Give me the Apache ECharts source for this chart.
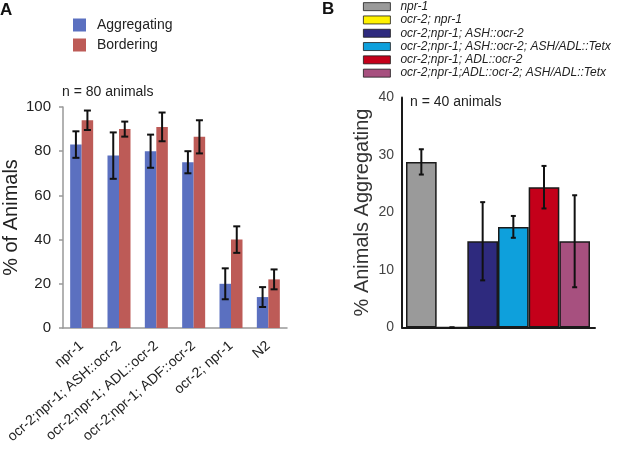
<!DOCTYPE html>
<html>
<head>
<meta charset="utf-8">
<script src="https://cdn.jsdelivr.net/npm/echarts@6/dist/echarts.min.js"></script>
<style>
  html, body { margin: 0; padding: 0; background: #fff; }
  #chart { width: 617px; height: 452px; }
</style>
</head>
<body>
<div id="chart"></div>
<script>
// Panel A: aggregating / bordering per strain
var strainsA = ["npr-1", "ocr-2;npr-1; ASH::ocr-2", "ocr-2;npr-1; ADL::ocr-2",
                "ocr-2;npr-1; ADF::ocr-2", "ocr-2; npr-1", "N2"];
var aggregating = [83, 78, 80, 75, 20, 14];
var aggregatingErr = [6, 10.5, 7.5, 5, 7, 4.5];
var bordering = [94, 90, 91, 86.5, 40, 22];
var borderingErr = [4.4, 3.4, 6.5, 7.5, 6, 4.5];
var ticksA = [0, 20, 40, 60, 80, 100];

// Panel B: % animals aggregating
var strainsB = ["npr-1", "ocr-2; npr-1", "ocr-2;npr-1; ASH::ocr-2",
                "ocr-2;npr-1; ASH::ocr-2; ASH/ADL::Tetx", "ocr-2;npr-1; ADL::ocr-2",
                "ocr-2;npr-1;ADL::ocr-2; ASH/ADL::Tetx"];
var aggregatingB = [28.8, 0, 15, 17.5, 24.4, 15];
var aggregatingBErr = [2.2, 0, 6.8, 1.9, 3.7, 8];
var colorsB = ["#9A9A9A", "#FFF200", "#2E2A7E", "#0EA0DC", "#C4001A", "#A7507F"];
var ticksB = [0, 10, 20, 30, 40];

var blue = "#5B70C0", red = "#BD5B57", ink = "#222222";
var sans = '"Liberation Sans", Arial, sans-serif';
var barW = 11.5;

// error bar drawn around a bar centre shifted by `shift` px
function errorBars(shift, cap, lw) {
  return function (params, api) {
    var i = api.value(0);
    var lo = api.coord([i, api.value(1)]);
    var hi = api.coord([i, api.value(2)]);
    var x = lo[0] + shift;
    var st = { stroke: "#111", lineWidth: lw };
    return {
      type: "group",
      children: [
        { type: "line", shape: { x1: x, y1: lo[1], x2: x, y2: hi[1] }, style: st },
        { type: "line", shape: { x1: x - cap, y1: lo[1], x2: x + cap, y2: lo[1] }, style: st },
        { type: "line", shape: { x1: x - cap, y1: hi[1], x2: x + cap, y2: hi[1] }, style: st }
      ]
    };
  };
}
function errData(vals, errs) {
  return vals.map(function (v, i) { return [i, v - errs[i], v + errs[i]]; });
}

var seriesB = strainsB.map(function (name, i) {
  return {
    name: name, type: "bar", xAxisIndex: 2, yAxisIndex: 2, stack: "b",
    barWidth: "100%",
    itemStyle: { color: colorsB[i], borderColor: "#1a1a1a", borderWidth: 1.5 },
    data: aggregatingB.map(function (v, j) { return j === i ? v : "-"; })
  };
});

var chart = echarts.init(document.getElementById("chart"), null, { renderer: "canvas" });
chart.setOption({
  animation: false,
  textStyle: { fontFamily: sans },
  title: [
    { text: "A", left: 0, top: 2, padding: 0, textStyle: { fontSize: 17, fontWeight: "bold", color: "#111" } },
    { text: "B", left: 322, top: 1, padding: 0, textStyle: { fontSize: 17, fontWeight: "bold", color: "#111" } },
    { text: "n = 80 animals", left: 62, top: 85, padding: 0, textStyle: { fontSize: 14, fontWeight: "normal", color: ink } },
    { text: "n = 40 animals", left: 410, top: 95, padding: 0, textStyle: { fontSize: 14, fontWeight: "normal", color: ink } }
  ],
  legend: [
    {
      data: ["Aggregating", "Bordering"], orient: "vertical", left: 73, top: 18, padding: 0,
      icon: "rect", itemWidth: 13, itemHeight: 13, itemGap: 6,
      textStyle: { fontSize: 14, color: ink, padding: [0, 0, 0, 6] }
    },
    {
      data: strainsB, orient: "vertical", left: 363, top: 0, padding: 0,
      icon: "rect", itemWidth: 27, itemHeight: 8, itemGap: 0,
      itemStyle: { borderWidth: 0.8 },
      textStyle: { fontSize: 12, fontStyle: "italic", color: ink, lineHeight: 13.3, padding: [0, 0, 0, 5] }
    }
  ],
  grid: [
    { left: 59, top: 107, width: 228, height: 221 },
    { left: 402, top: 97.5, width: 193, height: 230 },
    { left: 406, top: 97.5, width: 184, height: 230 }
  ],
  xAxis: [
    {
      type: "category", gridIndex: 0, data: strainsA,
      axisLine: { lineStyle: { color: "#999", width: 1.5 } },
      axisTick: { length: 4, lineStyle: { color: "#999", width: 1.5 } },
      axisLabel: { interval: 0, rotate: 41, fontSize: 14, color: ink, margin: 16 }
    },
    {
      type: "category", gridIndex: 1, data: strainsB,
      axisLine: { lineStyle: { color: "#1a1a1a", width: 2 } },
      axisTick: { show: false }, axisLabel: { show: false }
    },
    {
      type: "category", gridIndex: 2, data: strainsB, show: false
    }
  ],
  yAxis: [
    {
      type: "value", gridIndex: 0, min: ticksA[0], max: ticksA[ticksA.length - 1], interval: 20,
      name: "% of Animals", nameLocation: "middle", nameGap: 42,
      nameTextStyle: { fontSize: 20, color: ink },
      axisLine: { show: true, lineStyle: { color: "#999", width: 1.5 } },
      axisTick: { show: true, length: 4, lineStyle: { color: "#999", width: 1.5 } },
      axisLabel: { fontSize: 15, color: ink, margin: 12 },
      splitLine: { show: false }
    },
    {
      type: "value", gridIndex: 1, min: ticksB[0], max: ticksB[ticksB.length - 1], interval: 10,
      name: "% Animals Aggregating", nameLocation: "middle", nameGap: 30,
      nameTextStyle: { fontSize: 20, color: "#333" },
      axisLine: { show: true, lineStyle: { color: "#1a1a1a", width: 2 } },
      axisTick: { show: false },
      axisLabel: { fontSize: 14, color: "#444", margin: 8 },
      splitLine: { show: false }
    },
    {
      type: "value", gridIndex: 2, min: ticksB[0], max: ticksB[ticksB.length - 1], show: false,
      splitLine: { show: false }
    }
  ],
  series: [
    {
      name: "Aggregating", type: "bar", xAxisIndex: 0, yAxisIndex: 0,
      barWidth: barW, barGap: 0, itemStyle: { color: blue }, data: aggregating
    },
    {
      name: "Bordering", type: "bar", xAxisIndex: 0, yAxisIndex: 0,
      barWidth: barW, barGap: 0, itemStyle: { color: red }, data: bordering
    },
    {
      type: "custom", xAxisIndex: 0, yAxisIndex: 0, z: 5,
      renderItem: errorBars(-barW / 2, 3.5, 2), data: errData(aggregating, aggregatingErr)
    },
    {
      type: "custom", xAxisIndex: 0, yAxisIndex: 0, z: 5,
      renderItem: errorBars(barW / 2, 3.5, 2), data: errData(bordering, borderingErr)
    }
  ].concat(seriesB).concat([
    {
      type: "custom", xAxisIndex: 2, yAxisIndex: 2, z: 5,
      renderItem: errorBars(0, 2.5, 2), data: errData(aggregatingB, aggregatingBErr)
    }
  ])
});
</script>
</body>
</html>
